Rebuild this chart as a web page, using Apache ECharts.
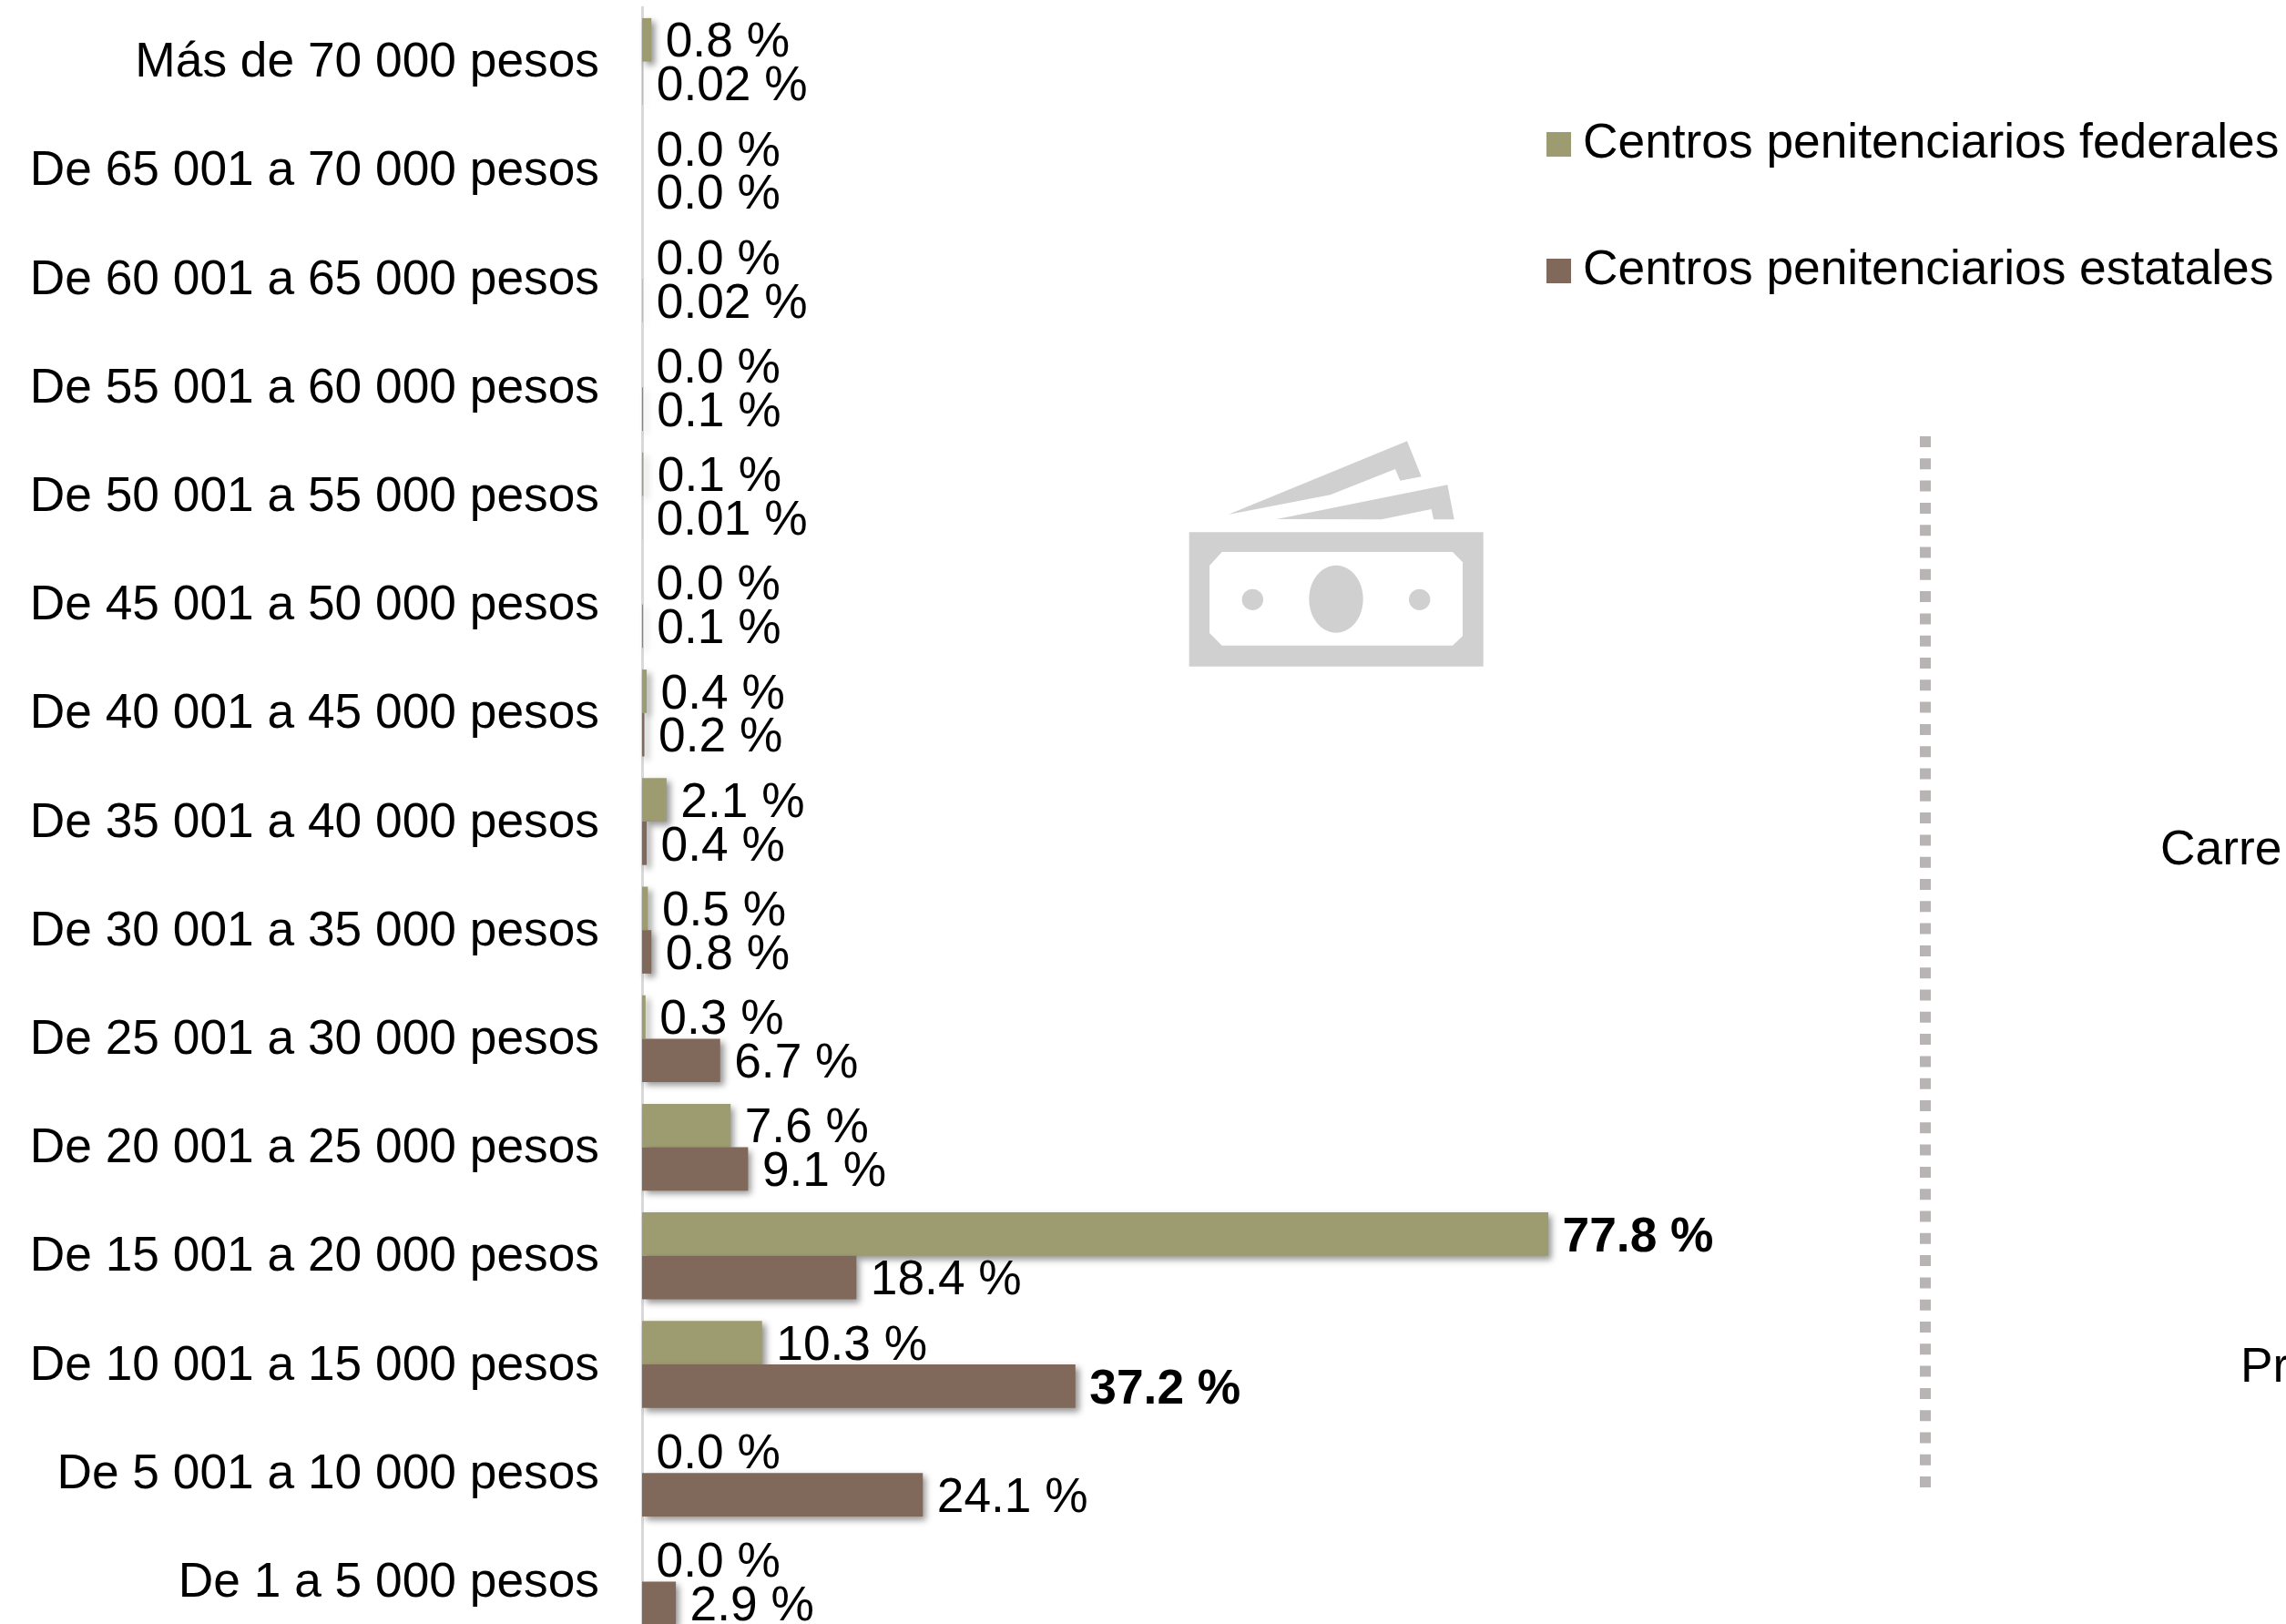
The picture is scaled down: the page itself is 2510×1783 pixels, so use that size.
<!DOCTYPE html>
<html>
<head>
<meta charset="utf-8">
<style>html,body{margin:0;padding:0;background:#fff}#c{width:2510px;height:1783px}</style>
<script src="https://cdn.jsdelivr.net/npm/echarts@6/dist/echarts.min.js"></script>
</head>
<body>
<div id="c"></div>
<script>
const categories = ['Más de 70 000 pesos','De 65 001 a 70 000 pesos','De 60 001 a 65 000 pesos','De 55 001 a 60 000 pesos','De 50 001 a 55 000 pesos','De 45 001 a 50 000 pesos','De 40 001 a 45 000 pesos','De 35 001 a 40 000 pesos','De 30 001 a 35 000 pesos','De 25 001 a 30 000 pesos','De 20 001 a 25 000 pesos','De 15 001 a 20 000 pesos','De 10 001 a 15 000 pesos','De 5 001 a 10 000 pesos','De 1 a 5 000 pesos'];
const federales = [0.8,0,0,0,0.1,0,0.4,2.1,0.5,0.3,7.6,77.8,10.3,0,0];
const estatales = [0.02,0,0.02,0.06,0.01,0.06,0.2,0.4,0.8,6.7,9.1,18.4,37.2,24.1,2.9];
const boldFederales = [77.8];
const boldEstatales = [37.2];
const FONT = '"Liberation Sans", Arial, sans-serif';
const FS = 53.3;
const GREY = '#d0d0d0';

const fmt = v => (v > 0 && v < 0.05 ? v.toFixed(2) : v.toFixed(1)) + ' %';
const items = (arr, bold) => arr.map(v => bold.includes(v)
  ? {value: v, label: {fontWeight: 'bold'}} : {value: v});
const series = (name, arr, bold, color) => ({
  name, type: 'bar', data: items(arr, bold), barWidth: 47.7, barGap: 0,
  itemStyle: {color, shadowBlur: 7, shadowOffsetX: 4, shadowOffsetY: 4, shadowColor: 'rgba(0,0,0,0.42)'},
  label: {show: true, position: 'right', distance: 15.5, offset: [0, 4], color: '#000', fontFamily: FONT, fontSize: FS,
    formatter: p => fmt(p.value)}
});
const poly = points => ({type: 'polygon', shape: {points}, style: {fill: GREY}});

const chart = echarts.init(document.getElementById('c'), null, {renderer: 'canvas'});
chart.setOption({
  animation: false,
  backgroundColor: '#fff',
  grid: {left: 705, width: 1279, top: 8, height: 1788, containLabel: false, outerBoundsMode: 'none'},
  legend: {
    orient: 'vertical', left: 1698, top: 127, padding: 0, itemWidth: 27, itemHeight: 27, itemGap: 76, icon: 'rect',
    textStyle: {fontFamily: FONT, fontSize: FS, color: '#000', lineHeight: 60, padding: [3,0,0,8]},
    itemStyle: {shadowBlur: 0, shadowOffsetX: 0, shadowOffsetY: 0}
  },
  xAxis: {type: 'value', min: 0, max: 100, show: false},
  yAxis: {
    type: 'category', data: categories, inverse: true,
    axisLine: {show: true, lineStyle: {color: '#d9d9d9', width: 3}},
    axisTick: {show: false},
    axisLabel: {interval: 0, margin: 47, color: '#000', fontFamily: FONT, fontSize: FS, verticalAlign: 'top', lineHeight: 4}
  },
  series: [
    series('Centros penitenciarios federales', federales, boldFederales, '#9d9c70'),
    series('Centros penitenciarios estatales', estatales, boldEstatales, '#80685a')
  ],
  graphic: [
    {type: 'line', shape: {x1: 2114, y1: 479, x2: 2114, y2: 1640},
     style: {stroke: '#b9b4b4', lineWidth: 12, lineDash: [12, 12.3]}},
    {type: 'text', left: 2372, top: 908, style: {text: 'Carre', fill: '#000', font: '53.3px ' + FONT}},
    {type: 'text', left: 2460, top: 1476, style: {text: 'Pr', fill: '#000', font: '53.3px ' + FONT}},
    {type: 'group', x: 1250, y: 450, scaleX: 1/3, scaleY: 1/3, children: [
      poly([[295,345],[885,103],[932,220],[862,233],[846,195],[632,280]]),
      poly([[455,360],[1018,247],[1040,361],[972,361],[965,327],[800,361]]),
      {type: 'rect', shape: {x: 167, y: 403, width: 969, height: 442}, style: {fill: GREY}},
      {type: 'polygon', shape: {points: [[234,513],[275,468],[1035,468],[1068,502],[1068,745],[1035,776],[275,776],[234,735]]}, style: {fill: '#fff'}},
      {type: 'ellipse', shape: {cx: 651, cy: 623, rx: 89, ry: 111}, style: {fill: GREY}},
      {type: 'circle', shape: {cx: 376, cy: 625, r: 35}, style: {fill: GREY}},
      {type: 'circle', shape: {cx: 926, cy: 625, r: 35}, style: {fill: GREY}}
    ]}
  ]
});
</script>
</body>
</html>
